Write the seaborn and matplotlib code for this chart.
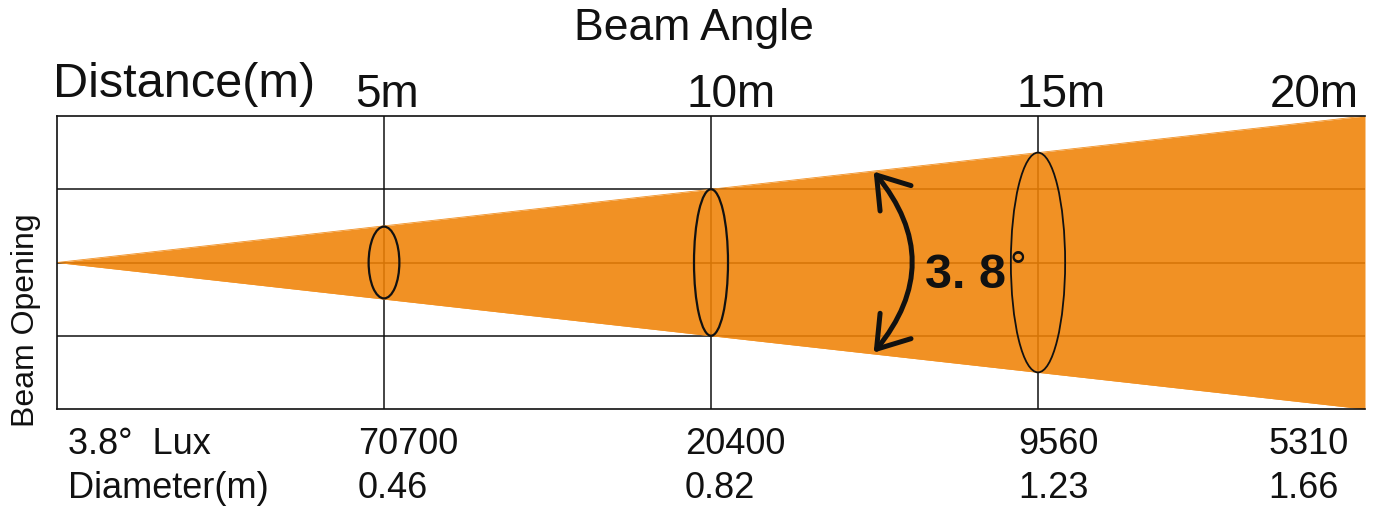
import numpy as np
import pandas as pd
import matplotlib
matplotlib.use("Agg")
import matplotlib.pyplot as plt
import seaborn as sns
from matplotlib.patches import Ellipse, FancyArrowPatch, ArrowStyle

# ---------------- data ----------------
distances = [5, 10, 15, 20]
distance_labels = ["5m", "10m", "15m", "20m"]
lux_values = ["70700", "20400", "9560", "5310"]
diameter_values = ["0.46", "0.82", "1.23", "1.66"]
beam_angle_label = "3. 8"
beam_x = [0, 20]          # distance (m)
beam_half = [0, 2]        # schematic half opening (grid units)
ring_x = [5, 10, 15]
ring_height = [0.98, 2.0, 3.0]
ring_width = [0.47, 0.52, 0.83]

# ---------------- style ----------------
W, H = 1381, 511
sns.set_theme(style="white")
plt.rcParams["font.family"] = ["Liberation Sans", "DejaVu Sans"]

def fx(px):
    return px / W

def fy(py):
    return 1 - py / H

fig = plt.figure(figsize=(W / 100, H / 100), dpi=100)
ax = fig.add_axes([fx(57), fy(409), (1365 - 57) / W, (409 - 116) / H])
ax.set_xlim(0, 20)
ax.set_ylim(-2, 2)

line_c = "#111111"
ax.set_xticks([5, 10, 15])
ax.set_yticks([-1, 0, 1])
ax.grid(True, color=line_c, lw=1.1)
ax.set_axisbelow(True)
ax.tick_params(length=0, labelbottom=False, labelleft=False)
for s in ["left", "top", "bottom"]:
    ax.spines[s].set_color(line_c)
    ax.spines[s].set_linewidth(1.2)
ax.spines["right"].set_visible(False)

# beam (alpha chosen so that over white it shows #F29123)
target = np.array([242, 145, 35]) / 255.0
alpha = 0.88
fill_rgb = np.clip((target - (1 - alpha)) / alpha, 0, 1)
bx = np.array(beam_x, dtype=float)
bh = np.array(beam_half, dtype=float)
ax.fill_between(bx, -bh, bh, color=fill_rgb, alpha=alpha, lw=0, zorder=1)
edges = pd.DataFrame({
    "x": np.concatenate([bx, bx]),
    "y": np.concatenate([bh, -bh]),
    "edge": ["up"] * len(bx) + ["down"] * len(bx),
})
sns.lineplot(data=edges, x="x", y="y", units="edge", estimator=None,
             color=tuple(target), lw=0.6, ax=ax, zorder=1.5, legend=False)
ax.set_xlabel("")
ax.set_ylabel("")

# rings
for x, h, w in zip(ring_x, ring_height, ring_width):
    lw = 1.6 if x < 15 else 1.3
    ax.add_patch(Ellipse((x, 0), w, h, fill=False, ec="#111111", lw=lw, zorder=4))

# curved double arrow
arr = FancyArrowPatch((12.46, 1.27), (12.46, -1.26),
                      connectionstyle="arc3,rad=-0.42",
                      arrowstyle=ArrowStyle("<->", head_length=0.9, head_width=0.6),
                      mutation_scale=24, lw=3.6, color="#111111", zorder=5)
ax.add_patch(arr)

# ---------------- texts ----------------
fig.text(fx(694), fy(40), "Beam Angle", fontsize=32, ha="center", va="baseline", color="#111111")
fig.text(fx(53), fy(97), "Distance(m)", fontsize=35, ha="left", va="baseline", color="#111111")

label_px = [355, 687, 1017, 1270]
for px, lab in zip(label_px, distance_labels):
    fig.text(fx(px), fy(107), lab, fontsize=33, ha="left", va="baseline", color="#111111")

fig.text(fx(26), fy(320), "Beam Opening", fontsize=23, rotation=90,
         ha="center", va="center", color="#111111")

fig.text(fx(68), fy(454), "3.8°  Lux", fontsize=26, ha="left", va="baseline", color="#111111")
fig.text(fx(68), fy(498), "Diameter(m)", fontsize=26, ha="left", va="baseline", color="#111111")
col_px = [358, 685, 1018, 1268]
for px, lv, dv in zip(col_px, lux_values, diameter_values):
    fig.text(fx(px), fy(454), lv, fontsize=26, ha="left", va="baseline", color="#111111")
    fig.text(fx(px), fy(498), dv, fontsize=26, ha="left", va="baseline", color="#111111")

fig.text(fx(925), fy(288), beam_angle_label, fontsize=35, fontweight="bold",
         ha="left", va="baseline", color="#111111", zorder=6)
fig.text(fx(1009), fy(281), "°", fontsize=30, ha="left", va="baseline",
         color="#111111", zorder=6)

fig.savefig("out.png", dpi=100)
